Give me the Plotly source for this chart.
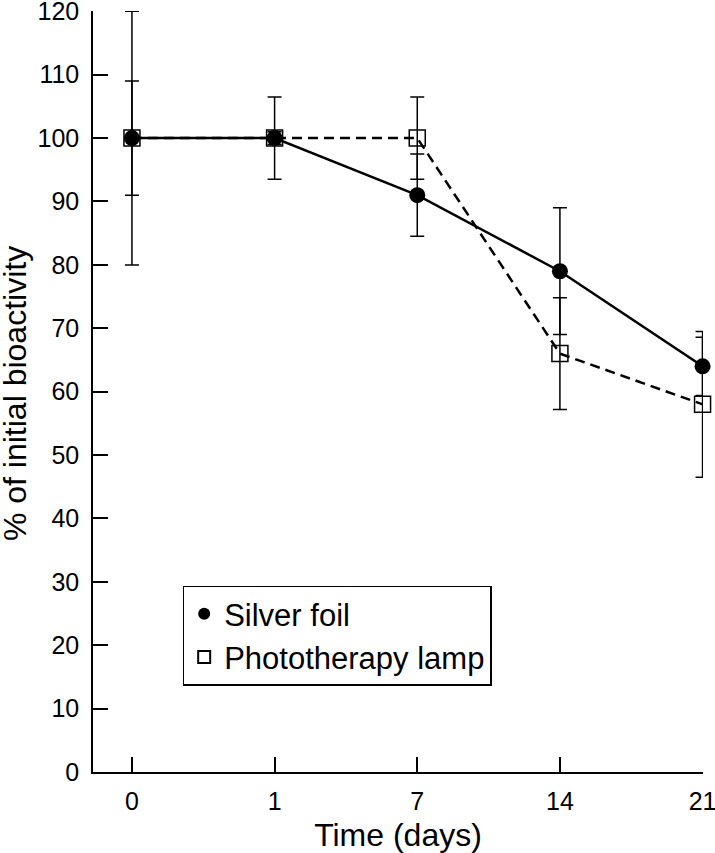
import plotly.graph_objects as go

days = ["0", "1", "7", "14", "21"]
silver = [100, 100, 91, 79, 64]
silver_err = [9, 6.5, 6.5, 10, 4.6]
lamp = [100, 100, 100, 66, 58]
lamp_err = [20, 1, 6.5, 8.8, 11.5]
yticks = list(range(0, 121, 10))
y_title = "% of initial bioactivity"

FONT = "Liberation Sans, Arial, Helvetica, sans-serif"
x_idx = list(range(len(days)))

fig = go.Figure()
fig.add_trace(go.Scatter(
    x=x_idx, y=lamp, mode="lines+markers", name="Phototherapy lamp",
    line=dict(color="black", width=2.5, dash="10px,6px"),
    marker=dict(symbol="square-open", size=16, color="black", line=dict(width=1.5)),
    error_y=dict(type="data", array=lamp_err, color="black", thickness=1.5, width=7),
    showlegend=False, cliponaxis=False))
fig.add_trace(go.Scatter(
    x=x_idx, y=silver, mode="lines+markers", name="Silver foil",
    line=dict(color="black", width=2.5),
    marker=dict(symbol="circle", size=16, color="black"),
    error_y=dict(type="data", array=silver_err, color="black", thickness=1.5, width=7),
    showlegend=False, cliponaxis=False))
# legend-only entries (marker only)
fig.add_trace(go.Scatter(x=[None], y=[None], mode="markers", name="Silver foil",
                         marker=dict(symbol="circle", size=17, color="black")))
fig.add_trace(go.Scatter(x=[None], y=[None], mode="markers", name="Phototherapy lamp",
                         marker=dict(symbol="square-open", size=17, color="black",
                                     line=dict(width=1.5))))

fig.update_layout(
    width=715, height=853,
    margin=dict(l=93, r=12, t=11, b=81),
    paper_bgcolor="white", plot_bgcolor="white",
    font=dict(family=FONT, size=25, color="black"),
    showlegend=True,
    legend=dict(x=0.147, y=0.245, xanchor="left", yanchor="top",
                bordercolor="black", borderwidth=1.5, bgcolor="white",
                font=dict(size=31, family=FONT), tracegroupgap=0,
                itemsizing="constant"),
    annotations=[dict(text=y_title, xref="paper", yref="paper",
                      x=-0.129, y=0.497, xanchor="center", yanchor="middle",
                      textangle=-90, showarrow=False,
                      font=dict(size=32, family=FONT, color="black"))],
)
fig.update_xaxes(
    range=[-0.273, 4.003], tickmode="array", tickvals=x_idx, ticktext=days,
    showline=True, linecolor="black", linewidth=1.5,
    ticks="inside", ticklen=15, tickwidth=1.5, tickcolor="black",
    showgrid=False, zeroline=False, automargin=False,
    tickfont=dict(size=25), ticklabelstandoff=6, ticklabeloverflow="allow",
    title=dict(text="Time (days)", font=dict(size=32), standoff=11),
)
fig.update_yaxes(
    range=[0, 120.05], tickmode="array", tickvals=yticks,
    showline=True, linecolor="black", linewidth=1.5,
    ticks="inside", ticklen=15, tickwidth=1.5, tickcolor="black",
    showgrid=False, zeroline=False, automargin=False,
    tickfont=dict(size=25), ticklabelstandoff=7, ticklabeloverflow="allow",
)

# remove the default 8px page margin so the figure fills the window exactly
fig.write_html("out.html", config={"displayModeBar": False},
               post_script="document.body.style.margin='0';")
